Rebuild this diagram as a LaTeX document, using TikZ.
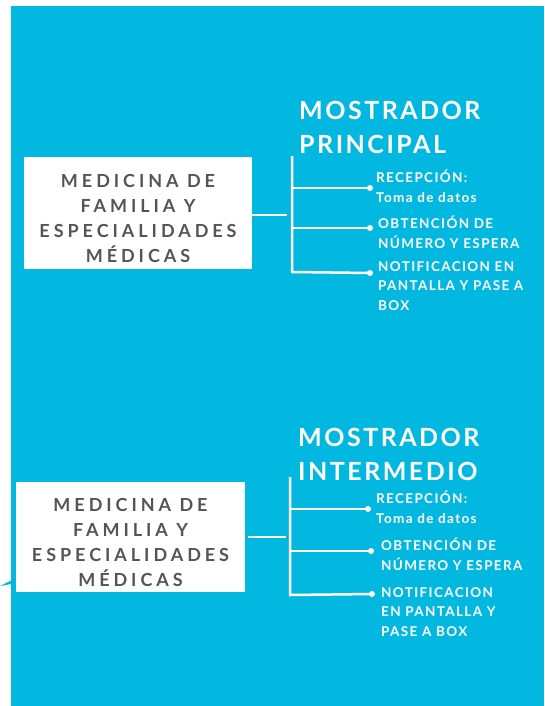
\documentclass[tikz,border=0pt]{standalone}
\usepackage{fontspec}
\setmainfont{Lato}
\definecolor{bg}{HTML}{03B8E0}
\definecolor{boxtxt}{HTML}{555555}
\tikzset{
  boxnode/.style={fill=white, inner sep=0pt},
  boxtext/.style={inner sep=0pt, text=boxtxt, align=center,
    font={\fontsize{18}{25}\selectfont\bfseries\addfontfeature{LetterSpace=22}}},
  titlenode/.style={anchor=north west, inner sep=0pt, text=white, align=left,
    font={\fontsize{25}{34}\selectfont\bfseries\addfontfeature{LetterSpace=10}}},
  itemnode/.style={anchor=north west, inner sep=0pt, text=white, align=left,
    font={\fontsize{13.5}{19.5}\selectfont\bfseries\addfontfeature{LetterSpace=10}}},
  wline/.style={draw=white, line width=2.5pt},
  dotnode/.style={circle, fill=white, inner sep=0pt, minimum size=6pt}
}
\begin{document}
\begin{tikzpicture}[x=1pt,y=-1pt]
\useasboundingbox (0,0) rectangle (544,706);
\fill[white] (0,0) rectangle (544,706);
\fill[bg] (11,6) rectangle (544,706);
\fill[bg] (0,586) -- (11,580.5) -- (11,584) -- cycle;

% ---------- top block ----------
\node[boxnode, minimum width=228pt, minimum height=112pt] (b1) at (138,213) {};
\node[boxtext] (b1t) at (138,218) {MEDICINA DE\\FAMILIA Y\\ESPECIALIDADES\\MÉDICAS};
\node[titlenode] (t1) at (299,101) {MOSTRADOR\\PRINCIPAL};
\coordinate (h1) at (287,215);
\coordinate (v1top) at (292,156);
\coordinate (v1bot) at (292,272);
\node[dotnode] (d11) at (370,188) {};
\node[dotnode] (d12) at (370,228) {};
\node[dotnode] (d13) at (370,273) {};
\draw[wline] (b1.east |- h1) -- (h1);
\draw[wline] (v1top) -- (v1bot) -- (d13.center);
\draw[wline] (v1top |- d11) -- (d11.center);
\draw[wline] (v1top |- d12) -- (d12.center);
\node[itemnode] (i11) at (376,170) {RECEPCIÓN:\\Toma de datos};
\node[itemnode] (i12) at (378,216) {OBTENCIÓN DE\\NÚMERO Y ESPERA};
\node[itemnode] (i13) at (378,261) {NOTIFICACION EN\\PANTALLA Y PASE A\\BOX};

% ---------- bottom block ----------
\node[boxnode, minimum width=229pt, minimum height=110pt] (b2) at (130.5,537) {};
\node[boxtext] (b2t) at (130.5,542) {MEDICINA DE\\FAMILIA Y\\ESPECIALIDADES\\MÉDICAS};
\node[titlenode] (t2) at (298,428) {MOSTRADOR\\INTERMEDIO};
\coordinate (h2) at (286,537);
\coordinate (v2top) at (290,477);
\coordinate (v2bot) at (290,595);
\node[dotnode] (d21) at (368,509) {};
\node[dotnode] (d22) at (371,551) {};
\node[dotnode] (d23) at (372,594) {};
\draw[wline] (b2.east |- h2) ++(3,0) -- (h2);
\draw[wline] (v2top) -- (v2bot) -- (d23.center);
\draw[wline] (v2top |- d21) -- (d21.center);
\draw[wline] (v2top |- d22) -- (d22.center);
\node[itemnode] (i21) at (376,491) {RECEPCIÓN:\\Toma de datos};
\node[itemnode] (i22) at (381,538) {OBTENCIÓN DE\\NÚMERO Y ESPERA};
\node[itemnode] (i23) at (381,587) {NOTIFICACION\\EN PANTALLA Y\\PASE A BOX};
\end{tikzpicture}
\end{document}
